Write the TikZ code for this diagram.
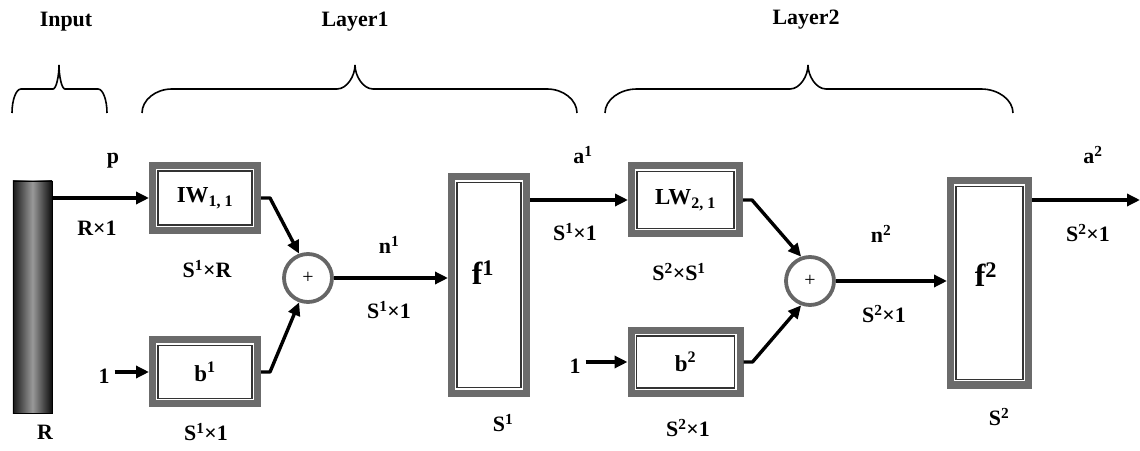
\documentclass[tikz,border=0pt]{standalone}
\usepackage{fontspec}
\setmainfont{Liberation Serif}
\usepackage{tikz}
\usetikzlibrary{arrows.meta, positioning}

\begin{document}
\begin{tikzpicture}[
        x=1bp, y=-1bp,
        >={Triangle[length=13bp, width=12bp]},
        wire/.style={line width=3.4bp, line join=round},
        lbl/.style={font=\bfseries\fontsize{22}{26}\selectfont, inner sep=1bp},
        ftxt/.style={font=\bfseries\fontsize{32}{36}\selectfont, inner sep=1bp},
        block/.style={
            rectangle,
            draw=black!80,
            line width=1.2bp,
            fill=white,
            preaction={draw=black!58, line width=18bp},
            preaction={draw=white, line width=4bp},
            outer sep=9bp,
            inner sep=0pt,
            align=center,
            font=\bfseries\fontsize{23}{27}\selectfont
        },
        sum/.style={
            circle,
            draw=black!60,
            line width=3.8bp,
            fill=white,
            minimum size=48bp,
            inner sep=0pt,
            font=\fontsize{20}{24}\selectfont
        },
        brc/.style={line width=1.6bp}
    ]
    \useasboundingbox (0,0) rectangle (1140,451);

    % Headings and braces
    \node[lbl] (head input) at (66,22) {Input};
    \node[lbl] (head layer1) at (355,22) {Layer1};
    \node[lbl] (head layer2) at (806,20) {Layer2};
    \foreach \xa/\xm/\xb/\rc/\rt in {12/59/107/9/6, 142/355/577/30/18, 605/808/1013/32/18}
        \draw[brc] (\xa,113) .. controls (\xa,100) and ({\xa+0.45*\rc},89) .. ({\xa+\rc},89)
            -- ({\xm-\rt},89) .. controls ({\xm-0.45*\rt},89) and (\xm,76) .. (\xm,65)
            .. controls (\xm,76) and ({\xm+0.45*\rt},89) .. ({\xm+\rt},89)
            -- ({\xb-\rc},89) .. controls ({\xb-0.45*\rc},89) and (\xb,100) .. (\xb,113);

    % Nodes
    \node[draw=black, thin, inner sep=0pt, outer sep=0pt, minimum width=39bp, minimum height=232bp,
          left color=black!90, right color=black!95, middle color=black!40] (input) at (32.5,297) {};
    \node[block, minimum width=94bp, minimum height=54bp] (iw) at (205,198) {IW\textsubscript{1, 1}};
    \node[block, minimum width=94bp, minimum height=53bp] (b1) at (205,372) {b\textsuperscript{1}};
    \node[sum] (sum1) at (308,278) {+};
    \node[block, minimum width=64bp, minimum height=205bp] (f1) at (489,285) {};
    \node[ftxt] (f1 text) at (483,273) {f\textsuperscript{1}};
    \node[block, minimum width=97bp, minimum height=57bp] (lw) at (685.5,200) {LW\textsubscript{2, 1}};
    \node[block, minimum width=98bp, minimum height=52bp] (b2) at (685.5,362) {b\textsuperscript{2}};
    \node[sum] (sum2) at (810,281) {+};
    \node[block, minimum width=67bp, minimum height=193bp] (f2) at (989.5,283) {};
    \node[ftxt] (f2 text) at (986,275) {f\textsuperscript{2}};
    \node[lbl] (one1) at (104,376) {1};
    \node[lbl] (one2) at (575,366) {1};
    \coordinate (out) at (1140,200);

    % Labels
    \node[lbl] (p label) at (113,161) {p};
    \node[lbl] (r size) at (97,228) {R×1};
    \node[lbl] (r label) at (45,432) {R};
    \node[lbl] (iw size) at (207,269) {S\textsuperscript{1}×R};
    \node[lbl] (b1 size) at (206,432) {S\textsuperscript{1}×1};
    \node[lbl] (n1 label) at (389,245) {n\textsuperscript{1}};
    \node[lbl] (n1 size) at (389,310) {S\textsuperscript{1}×1};
    \node[lbl] (f1 size) at (503,423) {S\textsuperscript{1}};
    \node[lbl] (a1 label) at (583,155) {a\textsuperscript{1}};
    \node[lbl] (a1 size) at (575,232) {S\textsuperscript{1}×1};
    \node[lbl] (lw size) at (679,272) {S\textsuperscript{2}×S\textsuperscript{1}};
    \node[lbl] (b2 size) at (688,428) {S\textsuperscript{2}×1};
    \node[lbl] (n2 label) at (881,234) {n\textsuperscript{2}};
    \node[lbl] (n2 size) at (884,314) {S\textsuperscript{2}×1};
    \node[lbl] (f2 size) at (999,417) {S\textsuperscript{2}};
    \node[lbl] (a2 label) at (1093,155) {a\textsuperscript{2}};
    \node[lbl] (a2 size) at (1088,233) {S\textsuperscript{2}×1};

    % Arrows
    \draw[wire, ->] (input.east |- iw) -- (iw.west);
    \draw[wire, ->] (one1.east) ++(4,-4) -- (b1.west);
    \draw[wire, ->] (iw.east) -- ++(9,0) -- (sum1.110);
    \draw[wire, ->] (b1.east) -- ++(9,0) -- (sum1.250);
    \draw[wire, ->] (sum1.east) -- (sum1 -| f1.west);
    \draw[wire, ->] (f1.east |- lw) -- (lw.west);
    \draw[wire, ->] (one2.east) ++(4,-4) -- (b2.west);
    \draw[wire, ->] (lw.east) -- ++(9,0) -- (sum2.110);
    \draw[wire, ->] (b2.east) -- ++(9,0) -- (sum2.250);
    \draw[wire, ->] (sum2.east) -- (sum2 -| f2.west);
    \draw[wire, ->] (f2.east |- lw) -- (out);

\end{tikzpicture}
\end{document}
